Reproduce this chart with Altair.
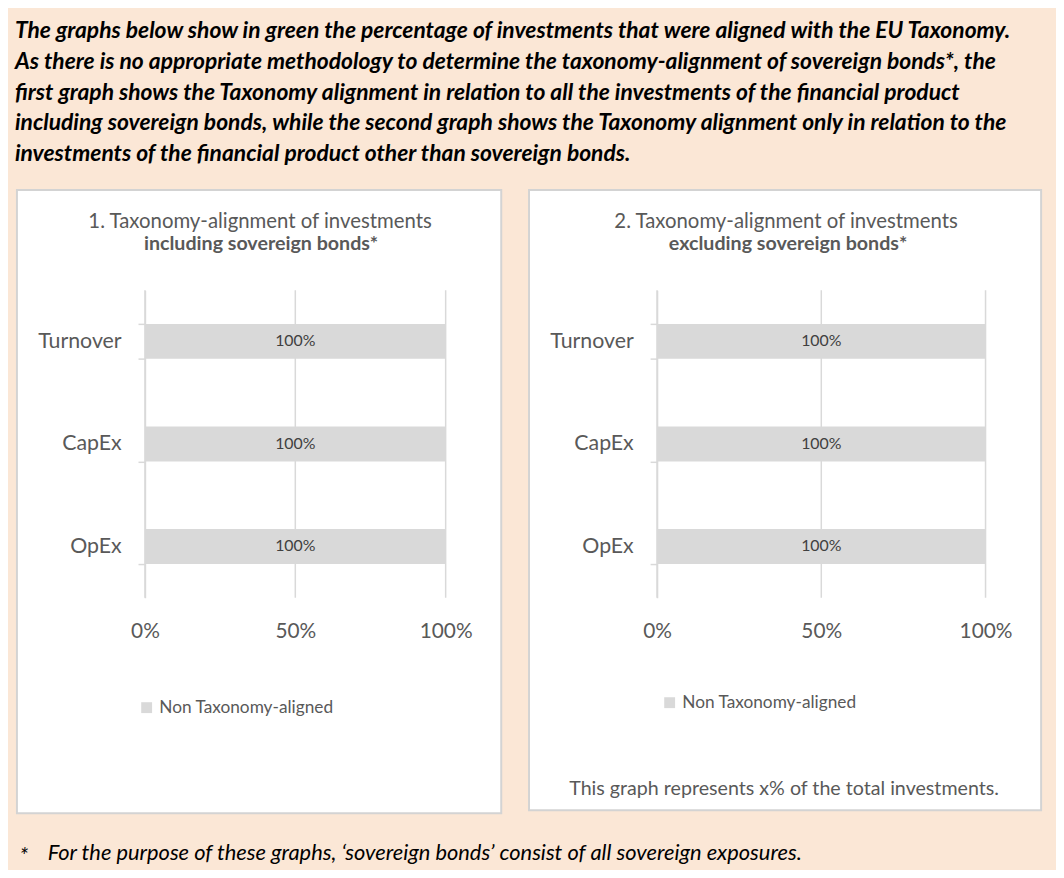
import altair as alt
import pandas as pd

# ---------------- data ----------------
CATEGORIES = ["Turnover", "CapEx", "OpEx"]
NON_ALIGNED_INCL = [100, 100, 100]   # % non taxonomy-aligned, incl. sovereign bonds
NON_ALIGNED_EXCL = [100, 100, 100]   # % non taxonomy-aligned, excl. sovereign bonds
SERIES = ["Non Taxonomy-aligned"]
X_TICKS = [0, 50, 100]

HEADER_LINES = [
    "The graphs below show in green the percentage of investments that were aligned with the EU Taxonomy.",
    "As there is no appropriate methodology to determine the taxonomy-alignment of sovereign bonds*, the",
    "first graph shows the Taxonomy alignment in relation to all the investments of the financial product",
    "including sovereign bonds, while the second graph shows the Taxonomy alignment only in relation to the",
    "investments of the financial product other than sovereign bonds.",
]
TITLE_1 = ["1. Taxonomy-alignment of investments", "including sovereign bonds*"]
TITLE_2 = ["2. Taxonomy-alignment of investments", "excluding sovereign bonds*"]
NOTE_2 = "This graph represents x% of the total investments."
FOOTNOTE_MARK = "*"
FOOTNOTE = "For the purpose of these graphs, \u2018sovereign bonds\u2019 consist of all sovereign exposures."

# ---------------- style ----------------
FONT = "Lato"
PEACH = "#FBE7D6"
TXT = "#595959"
BAR = "#D9D9D9"
GRID = "#D9D9D9"
BORDER = "#D3D3D3"

PLOT_W1, PLOT_W2, PLOT_H = 303, 331, 310
ORIGIN_1 = (146, 289)   # page position of plot area 1
ORIGIN_2 = (662, 289)   # page position of plot area 2
SPACING = ORIGIN_2[0] - ORIGIN_1[0] - PLOT_W1

ONE = pd.DataFrame({"k": [0]})


def rel(origin, x, y):
    return x - origin[0], y - origin[1]


def box(origin, x1, y1, x2, y2, fill, stroke=None):
    a = rel(origin, x1, y1)
    b = rel(origin, x2, y2)
    kw = dict(fill=fill)
    if stroke:
        kw.update(stroke=stroke, strokeWidth=2)
    return alt.Chart(ONE).mark_rect(**kw).encode(
        x=alt.value(a[0]), x2=alt.value(b[0]), y=alt.value(a[1]), y2=alt.value(b[1])
    )


def label(origin, x, y, text, **kw):
    p = rel(origin, x, y)
    props = dict(font=FONT, baseline="middle")
    props.update(kw)
    return alt.Chart(ONE).mark_text(text=text, **props).encode(
        x=alt.value(p[0]), y=alt.value(p[1])
    )


def bars_layers(values, legend_pos, plot_h):
    df = pd.DataFrame({"category": CATEGORIES, "value": values, "series": SERIES * len(CATEGORIES)})
    ticks = pd.DataFrame({"tick": X_TICKS})
    x_scale = alt.Scale(domain=[0, 100], nice=False)
    x_axis = alt.Axis(
        values=X_TICKS, labelExpr="datum.value + '%'", domain=False, ticks=False,
        grid=False, labelFont=FONT, labelFontSize=21, labelColor=TXT, labelPadding=23,
        labelFlush=False, labelOverlap=False, title=None, zindex=1,
    )
    y_enc = alt.Y(
        "category:N", sort=CATEGORIES, title=None,
        scale=alt.Scale(paddingInner=0.66, paddingOuter=0.33),
        axis=alt.Axis(
            domainColor=GRID, domainWidth=1.5, tickColor=GRID, tickWidth=1.5, tickSize=7,
            tickBand="extent", labelFont=FONT, labelFontSize=21.5, labelColor=TXT,
            labelPadding=17, grid=False, title=None, zindex=1,
        ),
    )
    grid = alt.Chart(ticks).mark_rule(color=GRID, strokeWidth=1.5).encode(
        x=alt.X("tick:Q", scale=x_scale, axis=x_axis, title=None),
        y=alt.value(0), y2=alt.value(plot_h),
    )
    base = alt.Chart(df).encode(y=y_enc)
    bars = base.mark_bar().encode(
        x=alt.X("value:Q", scale=x_scale, axis=x_axis, title=None),
        color=alt.Color(
            "series:N",
            scale=alt.Scale(domain=SERIES, range=[BAR]),
            legend=alt.Legend(
                orient="none", legendX=legend_pos[0], legendY=legend_pos[1], title=None,
                symbolType="square", symbolSize=120, symbolStrokeWidth=0,
                labelFont=FONT, labelFontSize=17.4, labelColor=TXT, labelOffset=4,
                labelLimit=0,
            ),
        ),
    )
    text = base.transform_calculate(
        mid="datum.value / 2", lab="datum.value + '%'"
    ).mark_text(font=FONT, fontSize=16, color="#404040").encode(
        x=alt.X("mid:Q", scale=x_scale, axis=x_axis, title=None),
        text="lab:N",
    )
    return [grid, bars, text]


# ---------------- panel 1 ----------------
o1 = ORIGIN_1
panel1 = alt.layer(
    box(o1, 8, 8, 1064, 870, PEACH),
    box(o1, 17, 188, 505, 816, "white", BORDER),
    label(o1, 15, 28, HEADER_LINES, align="left", baseline="middle", fontSize=23,
          fontWeight="bold", fontStyle="italic", color="black", lineHeight=31),
    label(o1, 24, 859, FOOTNOTE_MARK, align="center", fontSize=22, fontStyle="italic", color="black"),
    label(o1, 48, 856, FOOTNOTE, align="left", fontSize=22, fontStyle="italic", color="black"),
    label(o1, 262, 220, TITLE_1[0], align="center", fontSize=20.5, color=TXT),
    label(o1, 263, 243, TITLE_1[1], align="center", fontSize=19.8, fontWeight="bold", color=TXT),
    *bars_layers(NON_ALIGNED_INCL, rel(o1, 139, 701), PLOT_H),
).properties(width=PLOT_W1, height=PLOT_H)

# ---------------- panel 2 ----------------
o2 = ORIGIN_2
panel2 = alt.layer(
    box(o2, 533, 188, 1049, 813, "white", BORDER),
    label(o2, 792, 220, TITLE_2[0], align="center", fontSize=20.5, color=TXT),
    label(o2, 794, 243, TITLE_2[1], align="center", fontSize=19.8, fontWeight="bold", color=TXT),
    label(o2, 790, 792, NOTE_2, align="center", fontSize=19.8, color=TXT),
    *bars_layers(NON_ALIGNED_EXCL, rel(o2, 666, 696), PLOT_H),
).properties(width=PLOT_W2, height=PLOT_H)

chart = (
    alt.hconcat(panel1, panel2, spacing=SPACING, bounds="flush")
    .resolve_scale(color="independent")
    .configure(background=PEACH, padding=0)
    .configure_view(stroke=None)
)

chart.save("out.html", embed_options={"renderer": "svg", "actions": False})
